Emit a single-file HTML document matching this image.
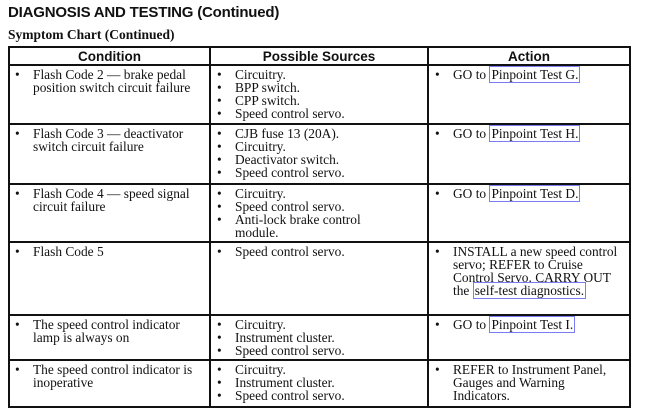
<!DOCTYPE html>
<html><head><meta charset="utf-8"><style>
body{margin:0;width:650px;height:414px;background:#fff;position:relative;overflow:hidden;font-family:"Liberation Serif",serif;color:#111}
.t{position:absolute;left:8px;top:4px;font:bold 15px "Liberation Sans",sans-serif;letter-spacing:-0.2px}
.s{position:absolute;left:8px;top:27px;font:bold 13.5px "Liberation Serif",serif}
.h{position:absolute;top:48px;height:17px;font:bold 13.5px "Liberation Sans",sans-serif;text-align:center;line-height:17px}
.hl{position:absolute;height:2px;background:#111;left:8px;width:622px}
.vl{position:absolute;width:2px;background:#111;top:46px;height:362px}
.c{position:absolute;font-size:13.4px;line-height:13px;white-space:nowrap}
.c div{position:relative;padding-left:18px}
.c div::before{content:"•";position:absolute;left:0}
a{border:1px solid #7a7cf2;padding:0 1px;color:#111;text-decoration:none}
</style></head><body>
<div class="t">DIAGNOSIS AND TESTING (Continued)</div>
<div class="s">Symptom Chart (Continued)</div>
<div class="hl" style="top:46px"></div>
<div class="hl" style="top:64px"></div>
<div class="hl" style="top:123px"></div>
<div class="hl" style="top:183px"></div>
<div class="hl" style="top:241px"></div>
<div class="hl" style="top:314px"></div>
<div class="hl" style="top:359px"></div>
<div class="hl" style="top:406px"></div>
<div class="vl" style="left:8px"></div>
<div class="vl" style="left:209px"></div>
<div class="vl" style="left:427px"></div>
<div class="vl" style="left:629px"></div>
<div class="h" style="left:10px;width:199px">Condition</div>
<div class="h" style="left:211px;width:216px">Possible Sources</div>
<div class="h" style="left:429px;width:200px">Action</div>

<div class="c" style="left:15px;top:68px"><div>Flash Code 2 — brake pedal<br>position switch circuit failure</div></div>
<div class="c" style="left:217px;top:68px"><div>Circuitry.</div><div>BPP switch.</div><div>CPP switch.</div><div>Speed control servo.</div></div>
<div class="c" style="left:435px;top:68px"><div>GO to <a>Pinpoint Test G.</a></div></div>

<div class="c" style="left:15px;top:127px"><div>Flash Code 3 — deactivator<br>switch circuit failure</div></div>
<div class="c" style="left:217px;top:127px"><div>CJB fuse 13 (20A).</div><div>Circuitry.</div><div>Deactivator switch.</div><div>Speed control servo.</div></div>
<div class="c" style="left:435px;top:127px"><div>GO to <a>Pinpoint Test H.</a></div></div>

<div class="c" style="left:15px;top:187px"><div>Flash Code 4 — speed signal<br>circuit failure</div></div>
<div class="c" style="left:217px;top:187px"><div>Circuitry.</div><div>Speed control servo.</div><div>Anti-lock brake control<br>module.</div></div>
<div class="c" style="left:435px;top:187px"><div>GO to <a>Pinpoint Test D.</a></div></div>

<div class="c" style="left:15px;top:245px"><div>Flash Code 5</div></div>
<div class="c" style="left:217px;top:245px"><div>Speed control servo.</div></div>
<div class="c" style="left:435px;top:245px"><div>INSTALL a new speed control<br>servo; REFER to Cruise<br>Control Servo. CARRY OUT<br>the <a>self-test diagnostics.</a></div></div>

<div class="c" style="left:15px;top:318px"><div>The speed control indicator<br>lamp is always on</div></div>
<div class="c" style="left:217px;top:318px"><div>Circuitry.</div><div>Instrument cluster.</div><div>Speed control servo.</div></div>
<div class="c" style="left:435px;top:318px"><div>GO to <a>Pinpoint Test I.</a></div></div>

<div class="c" style="left:15px;top:363px"><div>The speed control indicator is<br>inoperative</div></div>
<div class="c" style="left:217px;top:363px"><div>Circuitry.</div><div>Instrument cluster.</div><div>Speed control servo.</div></div>
<div class="c" style="left:435px;top:363px"><div>REFER to Instrument Panel,<br>Gauges and Warning<br>Indicators.</div></div>
</body></html>
